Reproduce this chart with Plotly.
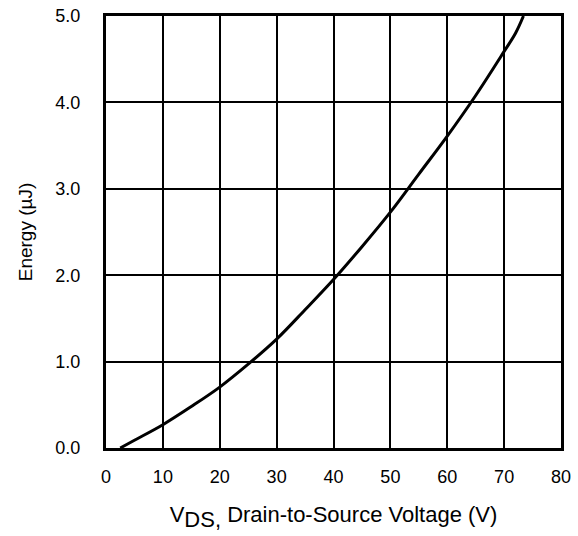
import plotly.graph_objects as go

vds = [2.5, 5, 10, 15, 20, 25, 30, 35, 40, 45, 50, 55, 60, 65, 70, 72, 73.4]
energy = [0.0, 0.09, 0.27, 0.48, 0.705, 0.97, 1.26, 1.6, 1.95, 2.33, 2.73, 3.17, 3.61, 4.08, 4.59, 4.8, 5.0]

x_ticks = [0, 10, 20, 30, 40, 50, 60, 70, 80]
y_ticks = [0, 1, 2, 3, 4, 5]
y_tick_labels = ["0.0", "1.0", "2.0", "3.0", "4.0", "5.0"]

fig = go.Figure()
fig.add_trace(go.Scatter(x=vds, y=energy, mode="lines",
                         line=dict(color="black", width=3, shape="spline", smoothing=1.0),
                         showlegend=False, hoverinfo="skip", cliponaxis=True))

fam = "Liberation Sans, Arial, Helvetica, sans-serif"

fig.update_layout(
    template="none",
    width=578, height=536,
    margin=dict(l=106, r=17, t=16, b=88),
    paper_bgcolor="white", plot_bgcolor="white",
    font=dict(family=fam, size=18, color="black"),
    xaxis=dict(range=[0, 80], tickvals=x_ticks, ticktext=[str(v) for v in x_ticks],
               showgrid=True, gridcolor="black", gridwidth=2,
               showline=True, linecolor="black", linewidth=3, mirror=True,
               zeroline=False, ticks="", ticklabelstandoff=10, automargin=False,
               tickfont=dict(family=fam, size=18, color="black"),
               title=dict(text="V<sub><span style='font-size:22px'>DS,</span></sub> Drain-to-Source Voltage (V)",
                          font=dict(family=fam, size=22, color="black"), standoff=22)),
    yaxis=dict(range=[0, 5], tickvals=y_ticks, ticktext=y_tick_labels,
               showgrid=True, gridcolor="black", gridwidth=2,
               showline=True, linecolor="black", linewidth=3, mirror=True,
               zeroline=False, ticks="", ticklabelstandoff=19, automargin=False,
               tickfont=dict(family=fam, size=18, color="black"),
               title=dict(text="Energy (µJ)", font=dict(family=fam, size=19, color="black"), standoff=18)),
)

fig.write_html("out.html", config={"displayModeBar": False},
               post_script="document.body.style.margin='0';document.body.style.padding='0';")
